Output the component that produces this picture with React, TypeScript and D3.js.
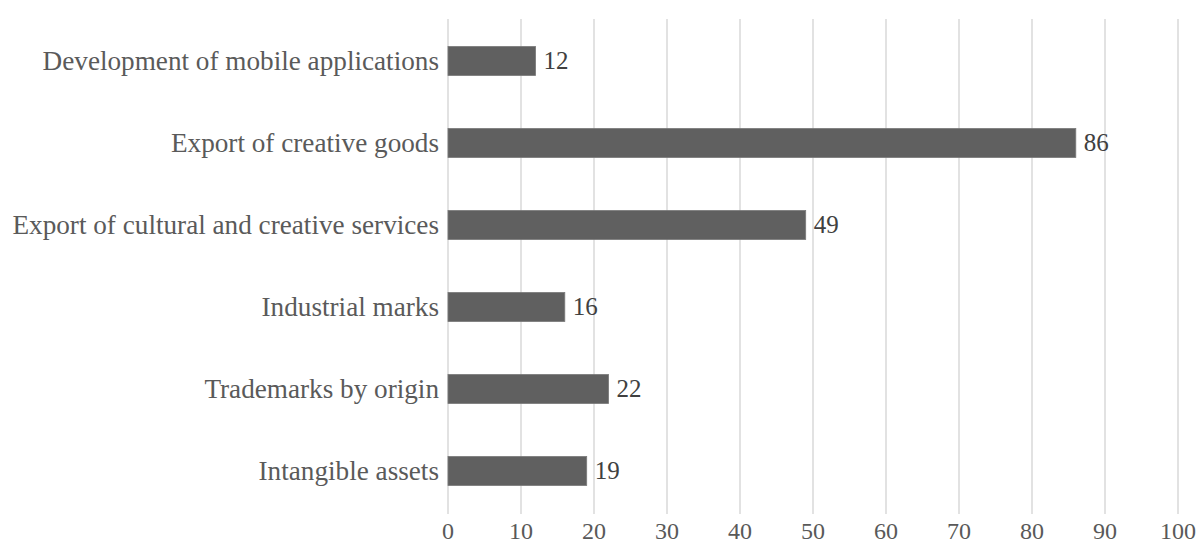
import React from "react";
import * as d3 from "d3";

const categories = [
  "Development of mobile applications",
  "Export of creative goods",
  "Export of cultural and creative services",
  "Industrial marks",
  "Trademarks by origin",
  "Intangible assets",
];
const values = [12, 86, 49, 16, 22, 19];
const ticks = [0, 10, 20, 30, 40, 50, 60, 70, 80, 90, 100];

const W = 1200;
const H = 545;
const left = 448;
const right = 1178;
const top = 20;
const bottom = 512;
const FONT = "'Liberation Serif', 'Times New Roman', serif";

export default function App() {
  const x = d3.scaleLinear().domain([0, 100]).range([left, right]);
  const y = d3.scaleBand().domain(categories).range([top, bottom]).paddingInner(0.645).paddingOuter(0.3225);
  return (
    <svg width={W} height={H} style={{ position: "absolute", left: 0, top: 0, background: "#fff" }}>
      {ticks.map((t) => (
        <line key={t} x1={x(t)} x2={x(t)} y1={19} y2={514} stroke="#d9d9d9" strokeWidth={1.5} />
      ))}
      {categories.map((c, i) => (
        <g key={c}>
          <rect x={x(0)} y={y(c)} width={x(values[i]) - x(0)} height={y.bandwidth()} fill="#606060" stroke="#7a7a7a" strokeWidth={0.8} />
          <text x={x(0) - 9} y={y(c)! + y.bandwidth() / 2} dy="0.33em" textAnchor="end" fontFamily={FONT} fontSize={27.2} fill="#5a5a5a">
            {c}
          </text>
          <text x={x(values[i]) + 8} y={y(c)! + y.bandwidth() / 2} dy="0.33em" textAnchor="start" fontFamily={FONT} fontSize={25} fill="#404040">
            {values[i]}
          </text>
        </g>
      ))}
      {ticks.map((t) => (
        <text key={t} x={x(t)} y={539} textAnchor="middle" fontFamily={FONT} fontSize={24} fill="#595959">
          {t}
        </text>
      ))}
    </svg>
  );
}
